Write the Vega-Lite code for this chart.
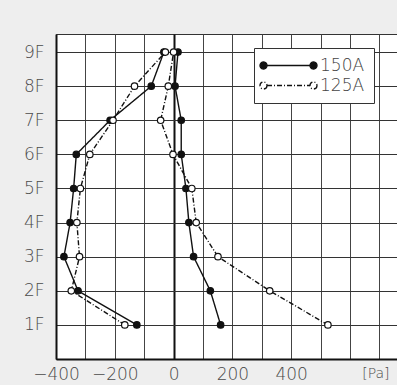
{
  "$schema": "https://vega.github.io/schema/vega-lite/v6.json",
  "width": 341,
  "height": 325,
  "autosize": {"type": "none"},
  "padding": {"left": 56, "top": 34, "right": 0, "bottom": 26},
  "background": "#eeeeee",
  "config": {
    "view": {"fill": "white", "stroke": "#333", "strokeWidth": 1},
    "font": "DejaVu Sans"
  },
  "data": {
    "values": [
      {"series": "150A", "side": "L", "floor": 1, "pa": -125},
      {"series": "150A", "side": "L", "floor": 2, "pa": -325},
      {"series": "150A", "side": "L", "floor": 3, "pa": -373},
      {"series": "150A", "side": "L", "floor": 4, "pa": -352},
      {"series": "150A", "side": "L", "floor": 5, "pa": -340},
      {"series": "150A", "side": "L", "floor": 6, "pa": -331},
      {"series": "150A", "side": "L", "floor": 7, "pa": -216},
      {"series": "150A", "side": "L", "floor": 8, "pa": -76},
      {"series": "150A", "side": "L", "floor": 9, "pa": -33},
      {"series": "150A", "side": "R", "floor": 9, "pa": 15},
      {"series": "150A", "side": "R", "floor": 8, "pa": 5},
      {"series": "150A", "side": "R", "floor": 7, "pa": 26},
      {"series": "150A", "side": "R", "floor": 6, "pa": 26},
      {"series": "150A", "side": "R", "floor": 5, "pa": 42},
      {"series": "150A", "side": "R", "floor": 4, "pa": 52},
      {"series": "150A", "side": "R", "floor": 3, "pa": 68},
      {"series": "150A", "side": "R", "floor": 2, "pa": 125},
      {"series": "150A", "side": "R", "floor": 1, "pa": 160},
      {"series": "125A", "side": "L", "floor": 1, "pa": -166},
      {"series": "125A", "side": "L", "floor": 2, "pa": -348},
      {"series": "125A", "side": "L", "floor": 3, "pa": -320},
      {"series": "125A", "side": "L", "floor": 4, "pa": -329},
      {"series": "125A", "side": "L", "floor": 5, "pa": -317},
      {"series": "125A", "side": "L", "floor": 6, "pa": -285},
      {"series": "125A", "side": "L", "floor": 7, "pa": -206},
      {"series": "125A", "side": "L", "floor": 8, "pa": -133},
      {"series": "125A", "side": "L", "floor": 9, "pa": -28},
      {"series": "125A", "side": "R", "floor": 9, "pa": 0},
      {"series": "125A", "side": "R", "floor": 8, "pa": -18},
      {"series": "125A", "side": "R", "floor": 7, "pa": -44},
      {"series": "125A", "side": "R", "floor": 6, "pa": -2},
      {"series": "125A", "side": "R", "floor": 5, "pa": 62},
      {"series": "125A", "side": "R", "floor": 4, "pa": 77},
      {"series": "125A", "side": "R", "floor": 3, "pa": 151},
      {"series": "125A", "side": "R", "floor": 2, "pa": 327},
      {"series": "125A", "side": "R", "floor": 1, "pa": 525}
    ]
  },
  "encoding": {
    "x": {
      "field": "pa",
      "type": "quantitative",
      "scale": {"domain": [-400, 760], "nice": false, "zero": false},
      "axis": {
        "title": null,
        "values": [-400, -300, -200, -100, 0, 100, 200, 300, 400, 500, 600, 700],
        "labelExpr": "datum.value == 700 ? '[Pa]' : (datum.value <= 400 && datum.value % 200 == 0 ? (datum.value < 0 ? '−' + (-datum.value) : '' + datum.value) : '')",
        "labelOverlap": false,
        "labelFlush": false,
        "labelFontSize": {"condition": {"test": "datum.value == 700", "value": 14}, "value": 17},
        "labelOffset": {"condition": {"test": "datum.value == 700", "value": -4}, "value": 0},
        "labelColor": "#4a4a4a",
        "labelFontWeight": 200,
        "labelPadding": 7,
        "ticks": false,
        "domainColor": "#111",
        "domainWidth": 2,
        "grid": true,
        "gridColor": {"condition": {"test": "datum.value == 0", "value": "#111"}, "value": "#444"},
        "gridWidth": {"condition": {"test": "datum.value == 0", "value": 2}, "value": 1},
        "gridOpacity": 1
      }
    },
    "y": {
      "field": "floor",
      "type": "quantitative",
      "scale": {"domain": [0, 9.53], "nice": false, "zero": false},
      "axis": {
        "title": null,
        "values": [1, 2, 3, 4, 5, 6, 7, 8, 9],
        "labelExpr": "datum.value + 'F'",
        "labelOverlap": false,
        "labelFontSize": 17,
        "labelColor": "#4a4a4a",
        "labelFontWeight": 200,
        "labelPadding": 12,
        "ticks": false,
        "domainColor": "#111",
        "domainWidth": 2,
        "grid": true,
        "gridColor": "#333",
        "gridWidth": 1,
        "gridOpacity": 1
      }
    }
  },
  "layer": [
    {
      "mark": {"type": "line", "color": "#111", "strokeWidth": 1.4},
      "encoding": {
        "detail": {"field": "side", "type": "nominal"},
        "order": {"field": "floor", "type": "quantitative"},
        "strokeDash": {
          "field": "series",
          "type": "nominal",
          "sort": ["150A", "125A"],
          "scale": {"domain": ["150A", "125A"], "range": [[1, 0], [5, 2, 1, 2]]},
          "legend": {
            "title": null,
            "orient": "none",
            "legendX": 198,
            "legendY": 14,
            "fillColor": "white",
            "strokeColor": "#333",
            "padding": 9,
            "symbolType": "M-4.3,0L4.3,0M-4.3,0A0.7,0.7 0 1,1 -5.7,0A0.7,0.7 0 1,1 -4.3,0M5.7,0A0.7,0.7 0 1,1 4.3,0A0.7,0.7 0 1,1 5.7,0",
            "symbolSize": 100,
            "symbolStrokeColor": "#111",
            "symbolStrokeWidth": 1.3,
            "symbolOffset": 17,
            "labelOffset": 23,
            "labelFontSize": 17,
            "labelFontWeight": 200,
            "labelColor": "#444",
            "rowPadding": 2
          }
        }
      }
    },
    {
      "mark": {"type": "point", "shape": "circle", "size": 42, "stroke": "#111", "strokeWidth": 1.2, "opacity": 1},
      "encoding": {
        "fill": {
          "field": "series",
          "type": "nominal",
          "sort": ["150A", "125A"],
          "scale": {"domain": ["150A", "125A"], "range": ["#111111", "#ffffff"]},
          "legend": {
            "title": null,
            "orient": "none",
            "legendX": 198,
            "legendY": 14,
            "fillColor": "white",
            "strokeColor": "#333",
            "padding": 9,
            "symbolType": "M-4.3,0L4.3,0M-4.3,0A0.7,0.7 0 1,1 -5.7,0A0.7,0.7 0 1,1 -4.3,0M5.7,0A0.7,0.7 0 1,1 4.3,0A0.7,0.7 0 1,1 5.7,0",
            "symbolSize": 100,
            "symbolStrokeColor": "#111",
            "symbolStrokeWidth": 1.3,
            "symbolOffset": 17,
            "labelOffset": 23,
            "labelFontSize": 17,
            "labelFontWeight": 200,
            "labelColor": "#444",
            "rowPadding": 2
          }
        }
      }
    }
  ]
}
